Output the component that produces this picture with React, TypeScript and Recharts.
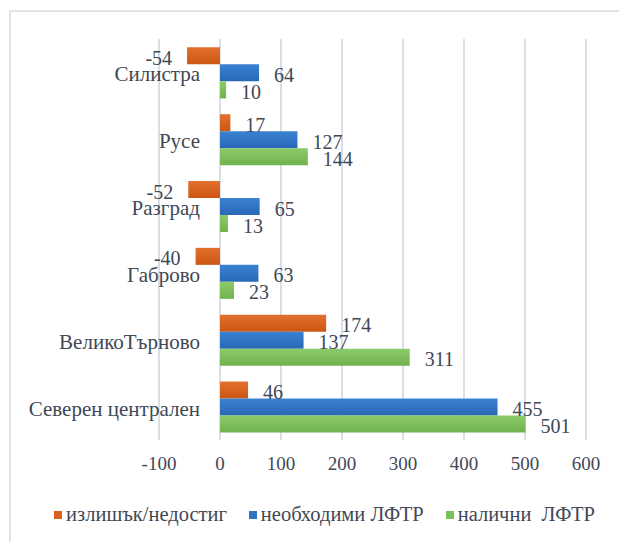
import { BarChart, Bar, XAxis, YAxis, CartesianGrid, Legend, LabelList } from 'recharts';

const REGIONS = ['Силистра', 'Русе', 'Разград', 'Габрово', 'ВеликоТърново', 'Северен централен'];
const SURPLUS = [-54, 17, -52, -40, 174, 46];
const NEEDED = [64, 127, 65, 63, 137, 455];
const AVAILABLE = [10, 144, 13, 23, 311, 501];
const X_TICKS = [-100, 0, 100, 200, 300, 400, 500, 600];

const SERIES = [
  { key: 'surplus', name: 'излишък/недостиг', color: '#d8601a', top: '#e2702e', bottom: '#cc5612' },
  { key: 'needed', name: 'необходими ЛФТР', color: '#2e74c4', top: '#3b82d2', bottom: '#2868b6' },
  { key: 'available', name: 'налични  ЛФТР', color: '#7cc05a', top: '#8ccb6a', bottom: '#70b24e' },
];

const data = REGIONS.map((name, i) => ({
  name,
  surplus: SURPLUS[i],
  needed: NEEDED[i],
  available: AVAILABLE[i],
}));

const FONT = '"Liberation Serif", "Times New Roman", serif';
const TEXT = '#404856';

// labels sit next to the zero line, not at the plot's left edge
const CategoryTick = ({ x, y, payload }: any) => (
  <text x={x + 41} y={y + 2} textAnchor="end" dominantBaseline="central" fontFamily={FONT} fontSize={21} fill={TEXT}>
    {payload.value}
  </text>
);

const ValueLabel = ({ x, y, width, height, value }: any) => {
  const left = Math.min(x, x + width);
  const right = Math.max(x, x + width);
  const neg = value < 0;
  return (
    <text
      x={neg ? left - 15 : right + 15}
      y={y + height / 2 + 2}
      textAnchor={neg ? 'end' : 'start'}
      dominantBaseline="central"
      fontFamily={FONT}
      fontSize={20}
      fill={TEXT}
    >
      {value}
    </text>
  );
};

const LegendContent = () => (
  <div style={{ display: 'flex', justifyContent: 'center', fontFamily: FONT, fontSize: 20.5, color: TEXT }}>
    {SERIES.map((s) => (
      <div key={s.key} style={{ display: 'flex', alignItems: 'center', marginRight: 22, whiteSpace: 'pre' }}>
        <span style={{ display: 'inline-block', width: 8, height: 8, background: s.color, marginRight: 4 }} />
        <span>{s.name}</span>
      </div>
    ))}
  </div>
);

export default function App() {
  return (
    <div style={{ position: 'relative', width: 619, height: 534, background: '#fff' }}>
      <div
        style={{
          position: 'absolute',
          left: 1,
          top: 2,
          right: 0,
          bottom: 0,
          borderLeft: '2px solid #dfe4eb',
          borderTop: '2px solid #dfe4eb',
        }}
      />
      <BarChart
        width={619}
        height={534}
        data={data}
        layout="vertical"
        margin={{ top: 31, right: 41, bottom: 72, left: 141 }}
        barCategoryGap="12.5%"
        barGap={0}
      >
        <defs>
          {SERIES.map((s) => (
            <linearGradient key={s.key} id={`grad-${s.key}`} x1="0" y1="0" x2="0" y2="1">
              <stop offset="0%" stopColor={s.top} />
              <stop offset="100%" stopColor={s.bottom} />
            </linearGradient>
          ))}
        </defs>
        <CartesianGrid horizontal={false} stroke="#d9dfe7" strokeWidth={2} />
        <XAxis
          type="number"
          domain={[-100, 600]}
          ticks={X_TICKS}
          interval={0}
          axisLine={false}
          tickLine={false}
          tickMargin={11}
          height={30}
          tick={{ fontFamily: FONT, fontSize: 19, fill: TEXT }}
        />
        <YAxis
          type="category"
          dataKey="name"
          width={10}
          axisLine={false}
          tickLine={false}
          tickSize={0}
          tickMargin={0}
          interval={0}
          tick={<CategoryTick />}
        />
        {SERIES.map((s) => (
          <Bar key={s.key} dataKey={s.key} name={s.name} fill={`url(#grad-${s.key})`} isAnimationActive={false}>
            <LabelList dataKey={s.key} content={<ValueLabel />} />
          </Bar>
        ))}
        <Legend
          verticalAlign="middle"
          content={<LegendContent />}
          wrapperStyle={{ top: 495, left: 18, width: 619 }}
        />
      </BarChart>
    </div>
  );
}
